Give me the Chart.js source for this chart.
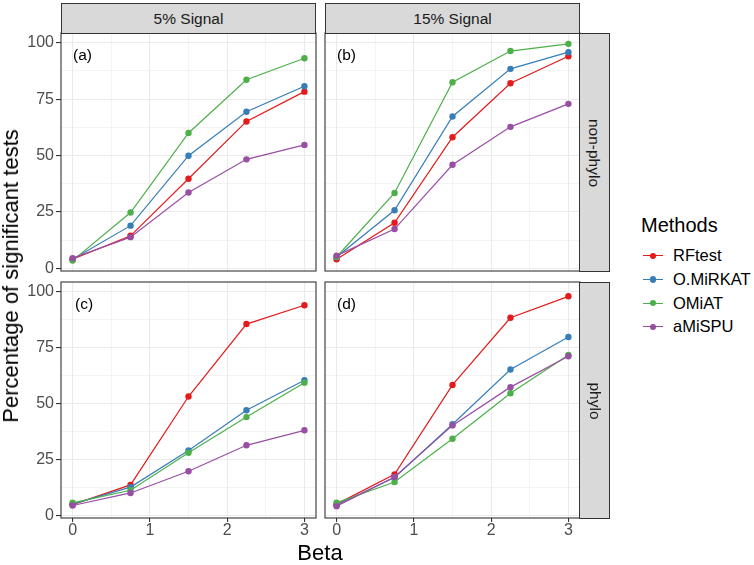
<!DOCTYPE html>
<html lang="en">

<head>
  <meta charset="UTF-8">
  <title>percentage of significant tests</title>
  <script src="https://cdn.jsdelivr.net/npm/chart.js"></script>
  <style>
    body { margin: 0; background: #fff; font-family: "Liberation Sans", Arial, sans-serif; }
    #wrap { position: relative; width: 754px; height: 565px; overflow: hidden; }
    canvas { position: absolute; }
    .strip { position: absolute; background: #D9D9D9; border: 1px solid #333; box-sizing: border-box;
      display: flex; align-items: center; justify-content: center; font-size: 15.5px; color: #1A1A1A; }
    .strip.side span { transform: rotate(90deg); white-space: nowrap; }
    .tag { position: absolute; font-size: 15.5px; color: #000; line-height: 1; }
    .title { position: absolute; color: #000; white-space: nowrap; font-size: 22px; line-height: 1; }
    #legend { position: absolute; left: 641px; top: 213px; }
    #legend .head { font-size: 20px; height: 24px; line-height: 24px; margin-bottom: 7px; }
    #legend .item { display: flex; align-items: center; height: 23.7px; font-size: 16.5px; }
    #legend .key { position: relative; width: 20px; height: 10px; margin-right: 10px; margin-left: 2px; }
    #legend .key i { position: absolute; left: 0; right: 0; top: 4.4px; height: 1.2px; }
    #legend .key b { position: absolute; left: 6.8px; top: 1.8px; width: 6.4px; height: 6.4px; border-radius: 50%; }
  </style>
</head>

<body>
  <div id="wrap">
    <canvas id="pA" width="319" height="244" style="left:0px;top:30px"></canvas>
    <canvas id="pB" width="261" height="244" style="left:322px;top:30px"></canvas>
    <canvas id="pC" width="319" height="264" style="left:0px;top:279px"></canvas>
    <canvas id="pD" width="261" height="264" style="left:322px;top:279px"></canvas>

    <div class="strip" style="left:61px;top:3px;width:255px;height:31px">5% Signal</div>
    <div class="strip" style="left:325px;top:3px;width:255px;height:31px">15% Signal</div>
    <div class="strip side" style="left:579px;top:33px;width:31px;height:239px"><span>non-phylo</span></div>
    <div class="strip side" style="left:579px;top:282px;width:31px;height:237px"><span>phylo</span></div>

    <div class="tag" style="left:73px;top:47px">(a)</div>
    <div class="tag" style="left:337px;top:47px">(b)</div>
    <div class="tag" style="left:75px;top:296px">(c)</div>
    <div class="tag" style="left:337px;top:296px">(d)</div>

    <div class="title" style="left:320px;top:553px;transform:translate(-50%,-50%)">Beta</div>
    <div class="title" style="left:11px;top:276px;transform:translate(-50%,-50%) rotate(-90deg)">Percentage of significant tests</div>

    <div id="legend"><div class="head">Methods</div></div>
  </div>

  <script>
    // x positions (Beta) and method names
    const betas = [0, 0.75, 1.5, 2.25, 3];
    const methods = ['RFtest', 'O.MiRKAT', 'OMiAT', 'aMiSPU'];
    const colors = ['#E41A1C', '#377EB8', '#4DAF4A', '#984EA3'];

    // rows follow methods order: RFtest, O.MiRKAT, OMiAT, aMiSPU
    const signal5_nonphylo = [
      [4.0, 14.4, 39.7, 65.1, 78.3],
      [4.0, 18.9, 49.9, 69.4, 80.7],
      [3.4, 24.7, 60.0, 83.6, 93.1],
      [4.5, 13.8, 33.6, 48.3, 54.7]
    ];
    const signal15_nonphylo = [
      [4.0, 20.2, 58.1, 82.0, 94.0],
      [5.0, 25.7, 67.3, 88.4, 95.8],
      [5.0, 33.4, 82.5, 96.3, 99.5],
      [5.6, 17.4, 45.9, 62.7, 72.9]
    ];
    const signal5_phylo = [
      [4.8, 13.6, 53.1, 85.5, 93.9],
      [5.0, 12.6, 29.0, 47.0, 60.4],
      [5.6, 11.2, 28.0, 43.9, 59.3],
      [4.4, 10.0, 19.7, 31.3, 38.0]
    ];
    const signal15_phylo = [
      [5.0, 18.3, 58.3, 88.3, 97.9],
      [4.6, 16.9, 40.7, 65.2, 79.7],
      [5.6, 14.9, 34.2, 54.6, 71.7],
      [4.1, 17.1, 40.2, 57.3, 71.1]
    ];

    const yTicks = [0, 25, 50, 75, 100];
    const xTicks = [0, 1, 2, 3];

    const frame = {
      id: 'frame',
      afterDraw(chart) {
        const a = chart.chartArea, c = chart.ctx;
        c.save();
        c.strokeStyle = '#333';
        c.lineWidth = 1.1;
        c.strokeRect(a.left, a.top, a.right - a.left, a.bottom - a.top);
        c.restore();
      }
    };

    const isMajor = (v, step) => Math.abs(v / step - Math.round(v / step)) < 1e-6;

    function panel(id, rows, showY, showX) {
      const datasets = rows.map((vals, i) => ({
        label: methods[i],
        data: betas.map((b, j) => ({ x: b, y: vals[j] })),
        borderColor: colors[i],
        backgroundColor: colors[i],
        borderWidth: 1.2,
        pointRadius: 3.2,
        pointBorderWidth: 0,
        order: rows.length - i
      }));
      const font = { family: '"Liberation Sans", Arial, sans-serif', size: 16 };
      new Chart(document.getElementById(id), {
        type: 'line',
        data: { datasets },
        plugins: [frame],
        options: {
          responsive: false,
          animation: false,
          layout: { padding: 3, autoPadding: false },
          plugins: { legend: { display: false }, tooltip: { enabled: false } },
          scales: {
            x: {
              type: 'linear', min: -0.15, max: 3.15,
              afterBuildTicks: s => {
                s.ticks = [];
                for (let v = 0; v <= 3; v += 0.5) s.ticks.push({ value: v });
              },
              afterFit: s => {
                s.height = showX ? 22 : 0;
                s.paddingLeft = 0; s.paddingRight = 0;
              },
              border: { display: false },
              grid: {
                color: '#EBEBEB',
                lineWidth: c => isMajor(c.tick.value, 1) ? 1.1 : 0.55,
                drawTicks: showX,
                tickLength: 4,
                tickColor: c => isMajor(c.tick.value, 1) ? '#333' : 'rgba(0,0,0,0)',
                tickWidth: 1.1
              },
              ticks: {
                display: showX,
                maxRotation: 0,
                autoSkip: false,
                padding: -1,
                color: '#4D4D4D',
                font,
                callback: v => xTicks.includes(v) ? String(v) : ''
              }
            },
            y: {
              min: -1.2, max: 104.3,
              afterBuildTicks: s => {
                s.ticks = [];
                for (let v = 0; v <= 100; v += 12.5) s.ticks.push({ value: v });
              },
              afterFit: s => {
                s.width = showY ? 58 : 0;
                s.paddingTop = 0; s.paddingBottom = 0;
              },
              border: { display: false },
              grid: {
                color: '#EBEBEB',
                lineWidth: c => isMajor(c.tick.value, 25) ? 1.1 : 0.55,
                drawTicks: showY,
                tickLength: 5,
                tickColor: c => isMajor(c.tick.value, 25) ? '#333' : 'rgba(0,0,0,0)',
                tickWidth: 1.1
              },
              ticks: {
                display: showY,
                autoSkip: false,
                padding: 2,
                color: '#4D4D4D',
                font,
                callback: v => yTicks.includes(v) ? String(v) : ''
              }
            }
          }
        }
      });
    }

    panel('pA', signal5_nonphylo, true, false);
    panel('pB', signal15_nonphylo, false, false);
    panel('pC', signal5_phylo, true, true);
    panel('pD', signal15_phylo, false, true);

    // legend
    const legend = document.getElementById('legend');
    methods.forEach((m, i) => {
      const row = document.createElement('div');
      row.className = 'item';
      row.innerHTML = '<span class="key"><i style="background:' + colors[i] + '"></i><b style="background:' + colors[i] + '"></b></span>' + m;
      legend.appendChild(row);
    });
  </script>
</body>

</html>
